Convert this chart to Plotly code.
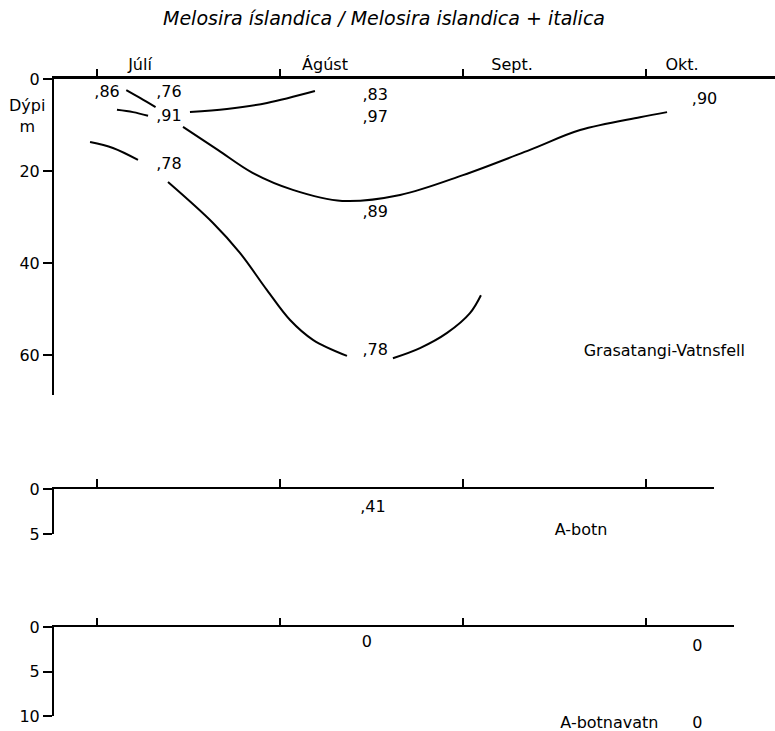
import plotly.graph_objects as go

# ---------------- data ----------------
# x in months from 1 July (0 = 1 Jul, 1 = 1 Aug, 2 = 1 Sep, 3 = 1 Oct); y = depth (m)
month_ticks = [0, 1, 2, 3]
month_label_pos = [0.235, 1.246, 2.268, 3.197]
month_labels = ["Júlí", "Ágúst", "Sept.", "Okt."]

# Grasatangi-Vatnsfell isoline pieces
curve_a_x = [0.16, 0.235, 0.32]
curve_a_y = [2.4, 4.1, 6.1]
curve_b_x = [0.109, 0.197, 0.279]
curve_b_y = [6.7, 7.2, 8.0]
curve_c_x = [0.508, 0.710, 0.929, 1.191]
curve_c_y = [7.2, 6.5, 5.2, 2.6]
curve_d_x = [0.47, 0.66, 0.85, 1.07, 1.34, 1.656, 2.0, 2.366, 2.64, 2.967, 3.115]
curve_d_y = [10.4, 15.4, 20.4, 24.1, 26.5, 25.2, 20.9, 15.4, 11.1, 8.3, 7.2]
curve_e_x = [-0.038, 0.087, 0.224]
curve_e_y = [13.7, 15.0, 17.6]
curve_f1_x = [0.388, 0.634, 0.781, 0.929, 1.055, 1.180, 1.366]
curve_f1_y = [22.4, 31.3, 37.8, 45.9, 52.4, 56.7, 60.2]
curve_f2_x = [1.617, 1.765, 1.913, 2.038, 2.098]
curve_f2_y = [60.7, 58.5, 55.2, 50.9, 47.0]

# ratio values (Grasatangi-Vatnsfell)
gv_x = [0.055, 0.393, 0.393, 0.393, 1.52, 1.52, 1.52, 1.52, 3.32]
gv_y = [3.0, 3.0, 8.3, 18.7, 3.7, 8.5, 29.1, 59.1, 4.6]
gv_text = [",86", ",76", ",91", ",78", ",83", ",97", ",89", ",78", ",90"]

# A-botn
ab_x = [1.508]
ab_y = [2.1]
ab_text = [",41"]

# A-botnavatn (surface values, then bottom value at 10 m)
abv_x = [1.475, 3.28]
abv_y = [1.8, 2.25]
abv_text = ["0", "0"]
abv_bottom_x = [3.28]
abv_bottom_y = [10.0]
abv_bottom_text = ["0"]

panel_names = ["Grasatangi-Vatnsfell", "A-botn", "A-botnavatn"]
panel_name_x = [3.10, 2.645, 2.80]
panel_name_y = [59.3, 4.67, 10.0]

y1_ticks = [0, 20, 40, 60]
y2_ticks = [0, 5]
y3_ticks = [0, 5, 10]

title = "Melosira íslandica / Melosira islandica + italica"

# ---------------- figure ----------------
W, H = 775, 731
FONT = "DejaVu Sans"
fig = go.Figure()

line_style = dict(color="black", width=2, shape="spline", smoothing=1.0)
for cx, cy in [(curve_a_x, curve_a_y), (curve_b_x, curve_b_y), (curve_c_x, curve_c_y),
               (curve_d_x, curve_d_y), (curve_e_x, curve_e_y),
               (curve_f1_x, curve_f1_y), (curve_f2_x, curve_f2_y)]:
    fig.add_trace(go.Scatter(x=cx, y=cy, mode="lines", line=line_style,
                             xaxis="x", yaxis="y", hoverinfo="skip"))

txt_font = dict(family=FONT, size=16, color="black")
fig.add_trace(go.Scatter(x=gv_x, y=gv_y, text=gv_text, mode="text", textfont=txt_font,
                         cliponaxis=False, xaxis="x", yaxis="y"))
fig.add_trace(go.Scatter(x=ab_x, y=ab_y, text=ab_text, mode="text", textfont=txt_font,
                         cliponaxis=False, xaxis="x2", yaxis="y2"))
fig.add_trace(go.Scatter(x=abv_x, y=abv_y, text=abv_text, mode="text", textfont=txt_font,
                         cliponaxis=False, xaxis="x3", yaxis="y3"))
fig.add_trace(go.Scatter(x=abv_bottom_x, y=abv_bottom_y, text=abv_bottom_text, mode="text",
                         textposition="bottom center", textfont=txt_font,
                         cliponaxis=False, xaxis="x3", yaxis="y3"))
for i, (ax, ay) in enumerate([("x", "y"), ("x2", "y2"), ("x3", "y3")]):
    fig.add_trace(go.Scatter(x=[panel_name_x[i]], y=[panel_name_y[i]], text=[panel_names[i]],
                             mode="text", textfont=txt_font, cliponaxis=False,
                             textposition="bottom center" if i == 2 else "middle center",
                             xaxis=ax, yaxis=ay))

L = 54
plot_w = W - L
px_per_month = 183.0
m0_px = 97.0


def xr(right_px):
    return [(L - m0_px) / px_per_month, (right_px - m0_px) / px_per_month]


def dom_x(right_px):
    return [0, (right_px - L) / plot_w]


def dom_y(top_px, bot_px):
    return [1 - bot_px / H, 1 - top_px / H]


xcommon = dict(showline=True, linecolor="black", showgrid=False, zeroline=False,
               side="top", fixedrange=True, automargin=False)
ycommon = dict(showline=True, linecolor="black", linewidth=2, showgrid=False, zeroline=False,
               ticks="outside", ticklen=9, tickwidth=2, tickcolor="black", automargin=False,
               tickfont=dict(family=FONT, size=16, color="black"), fixedrange=True)

fig.update_layout(
    width=W, height=H,
    margin=dict(l=L, r=0, t=0, b=0, pad=0, autoexpand=False),
    paper_bgcolor="white", plot_bgcolor="white",
    showlegend=False,
    title=dict(text=title, x=384 / W, xref="container", xanchor="center",
               y=1 - 18 / H, yref="container", yanchor="middle",
               font=dict(family=FONT, size=19, color="black", style="italic")),
    xaxis=dict(xcommon, domain=[0, 1], range=xr(775), anchor="y", linewidth=2.5,
               tickmode="array", tickvals=month_label_pos, ticktext=month_labels,
               ticks="", tickfont=dict(family=FONT, size=16, color="black"),
               minor=dict(tickmode="array", tickvals=month_ticks, ticks="outside",
                          ticklen=7, tickwidth=2, tickcolor="black", showgrid=False)),
    yaxis=dict(ycommon, domain=dom_y(79, 395), range=[68.7, 0], anchor="x",
               tickmode="array", tickvals=y1_ticks),
    xaxis2=dict(xcommon, domain=dom_x(714), range=xr(714), anchor="y2", linewidth=2,
                tickmode="array", tickvals=month_ticks, showticklabels=False,
                ticks="outside", ticklen=8, tickwidth=2, tickcolor="black"),
    yaxis2=dict(ycommon, domain=dom_y(489, 534), range=[5, 0], anchor="x2",
                tickmode="array", tickvals=y2_ticks),
    xaxis3=dict(xcommon, domain=dom_x(734), range=xr(734), anchor="y3", linewidth=2,
                tickmode="array", tickvals=month_ticks, showticklabels=False,
                ticks="outside", ticklen=7, tickwidth=2, tickcolor="black"),
    yaxis3=dict(ycommon, domain=dom_y(627, 716), range=[10, 0], anchor="x3",
                tickmode="array", tickvals=y3_ticks),
)

fig.add_annotation(text="Dýpi<br>m", xref="paper", yref="paper",
                   x=-27 / plot_w, y=1 - 116 / H, xanchor="center", yanchor="middle",
                   showarrow=False, font=dict(family=FONT, size=16, color="black"))

fig.write_html("out.html")
